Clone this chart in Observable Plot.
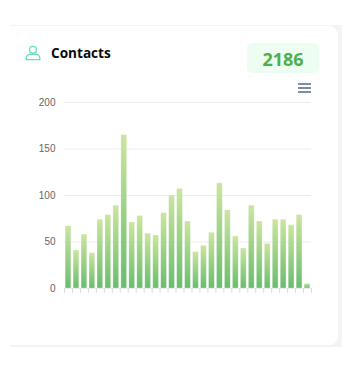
<!DOCTYPE html>
<html>
<head>
<meta charset="utf-8">
<script src="https://cdn.jsdelivr.net/npm/d3@7"></script>
<script src="https://cdn.jsdelivr.net/npm/@observablehq/plot@0.6"></script>
<style>
html,body{margin:0;padding:0;background:#fff;width:353px;height:372px;overflow:hidden}
#frame{position:absolute;left:10px;top:25px;width:332px;height:322px;background:#f4f4f4}
#card{position:absolute;left:10px;top:26px;width:328px;height:319px;background:#fff;border-radius:0 9px 9px 0}
#icon{position:absolute;left:25px;top:45px}
#title{position:absolute;left:51px;top:44px;font:700 13.6px/18px "Open Sans",sans-serif;color:#0b0b0b}
#pill{position:absolute;left:247px;top:43px;width:72px;height:30px;border-radius:5px;background:#edfdf1;color:#4caf50;font:700 18px/32px "Open Sans",sans-serif;text-align:center}
.m{position:absolute;left:298px;width:13px;height:2px;background:#7d8ea3}
#chart{position:absolute;left:0;top:90px}
</style>
</head>
<body>
<div id="frame"></div>
<div id="card"></div>
<svg id="icon" width="16" height="16" viewBox="0 0 16 16" fill="none" stroke="#68e0bb" stroke-width="1.4">
<circle cx="8" cy="4.8" r="3.4"/>
<path d="M1.2 14.6v-1.4c0-2.4 2-4 4.2-4h5.2c2.2 0 4.2 1.6 4.2 4v1.4z"/>
</svg>
<div id="title">Contacts</div>
<div id="pill">2186</div>
<div class="m" style="top:83px"></div>
<div class="m" style="top:87px"></div>
<div class="m" style="top:91px"></div>
<div id="chart"></div>
<script>
const contacts = [67,41,58,38,74,79,89,165,71,78,59,57,81,100,107,72,39,46,60,113,84,56,43,89,72,48,74,74,68,79,5];
const yTicks = [0,50,100,150,200];
const slots = contacts.map((_, i) => i);

const gradient = () => {
  const svg = d3.create("svg:defs");
  const g = svg.append("linearGradient").attr("id","barFill").attr("x1",0).attr("y1",0).attr("x2",0).attr("y2",1);
  g.append("stop").attr("offset","0%").attr("stop-color","#cce59f");
  g.append("stop").attr("offset","100%").attr("stop-color","#6abd6e");
  return svg.node();
};

const chart = Plot.plot({
  width: 353,
  height: 220,
  marginTop: 12,
  marginBottom: 22,
  marginLeft: 64,
  marginRight: 42,
  style: {background:"transparent", fontFamily:"'Liberation Sans',Arial,sans-serif", fontSize:"10px", color:"#666"},
  x: {type:"linear", domain:[0, contacts.length], axis:null},
  y: {domain:[0,200], axis:null},
  marks: [
    gradient,
    Plot.ruleY(yTicks, {stroke:"#ececec", strokeWidth:1}),
    Plot.axisX(d3.range(contacts.length + 1), {tickSize:5, tickPadding:0, tickFormat:()=>"", stroke:"#dcdcdc", label:null}),
    Plot.rectY(slots, {
      x1: i => i, x2: i => i + 1, y1: 0, y2: i => contacts[i],
      insetLeft: 1.1, insetRight: 1.1,
      fill: "url(#barFill)", stroke:"#fff", strokeOpacity:0.45, strokeWidth:0.6
    }),
    Plot.text(yTicks, {x:0, y:d=>d, text:d=>String(d), textAnchor:"end", dx:-9, fill:"#666", fontSize:10})
  ]
});
document.getElementById("chart").appendChild(chart);
</script>
</body>
</html>
